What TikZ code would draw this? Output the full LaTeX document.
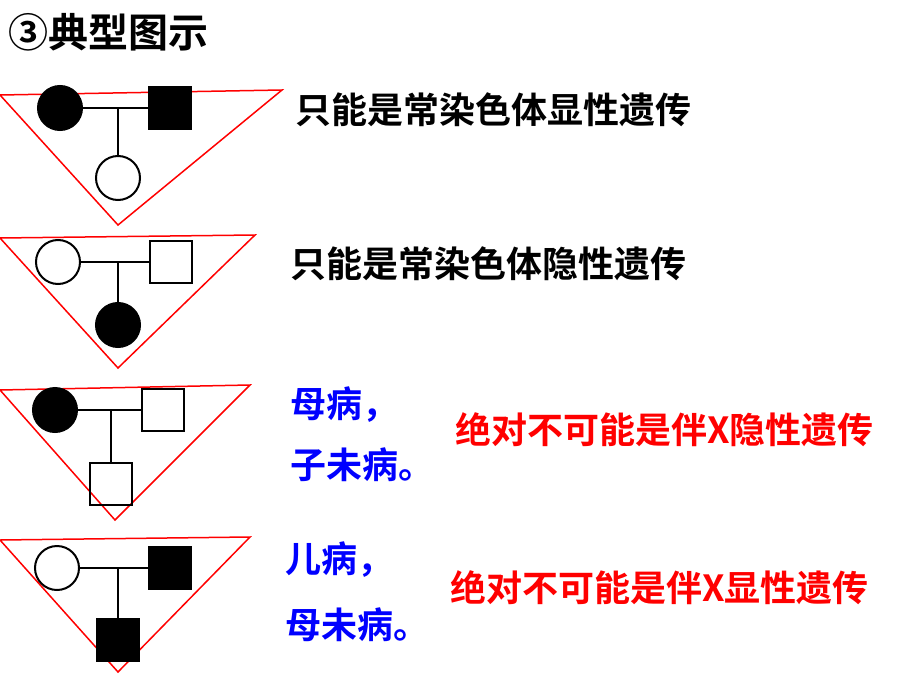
\documentclass[tikz,border=0pt]{standalone}
\usepackage{fontspec}
\newfontfamily\cjk{Noto Sans CJK SC Bold}
\begin{document}
\begin{tikzpicture}[x=1pt,y=-1pt,
  fem/.style={circle,draw,line width=2pt,minimum size=44pt,inner sep=0pt},
  mal/.style={rectangle,draw,line width=2pt,minimum size=42pt,inner sep=0pt},
  aff/.style={fill=black},
  ln/.style={line width=2pt},
  tri/.style={draw=red,line width=1.5pt},
  txt/.style={font=\cjk\fontsize{36}{40}\selectfont,anchor=west,inner sep=0pt}]
\useasboundingbox (0,0) rectangle (920,690);
\node[txt,font=\cjk\fontsize{40}{44}\selectfont] (title) at (8,32) {③典型图示};
% pedigree 1
\draw[tri] (0,95) -- (282,90) -- (118,225) -- cycle;
\node[fem,aff] (f1) at (60,108) {};
\node[mal,aff] (m1) at (170,108) {};
\node[fem] (c1) at (118,178) {};
\draw[ln] (f1) -- (m1);
\coordinate (j1) at (118,108);
\draw[ln] (j1) -- (c1);
\node[txt] (t1) at (295,110) {只能是常染色体显性遗传};
% pedigree 2
\draw[tri] (0,238) -- (255,235) -- (118,368) -- cycle;
\node[fem] (f2) at (58,262) {};
\node[mal] (m2) at (171,262) {};
\node[fem,aff] (c2) at (118,325) {};
\draw[ln] (f2) -- (m2);
\coordinate (j2) at (118,262);
\draw[ln] (j2) -- (c2);
\node[txt] (t2) at (290,264) {只能是常染色体隐性遗传};
% pedigree 3
\draw[tri] (0,390) -- (250,385) -- (115,520) -- cycle;
\node[fem,aff] (f3) at (55,410) {};
\node[mal] (m3) at (163,410) {};
\node[mal] (c3) at (111,484) {};
\draw[ln] (f3) -- (m3);
\coordinate (j3) at (111,410);
\draw[ln] (j3) -- (c3);
\node[txt,text=blue] (t3a) at (290,405) {母病，};
\node[txt,text=blue] (t3b) at (290,465) {子未病。};
\node[txt,text=red] (t3c) at (455,430) {绝对不可能是伴X隐性遗传};
% pedigree 4
\draw[tri] (0,540) -- (250,537) -- (118,672) -- cycle;
\node[fem] (f4) at (57,568) {};
\node[mal,aff] (m4) at (170,568) {};
\node[mal,aff] (c4) at (118,640) {};
\draw[ln] (f4) -- (m4);
\coordinate (j4) at (118,568);
\draw[ln] (j4) -- (c4);
\node[txt,text=blue] (t4a) at (285,560) {儿病，};
\node[txt,text=blue] (t4b) at (285,625) {母未病。};
\node[txt,text=red] (t4c) at (450,588) {绝对不可能是伴X显性遗传};
\end{tikzpicture}
\end{document}
